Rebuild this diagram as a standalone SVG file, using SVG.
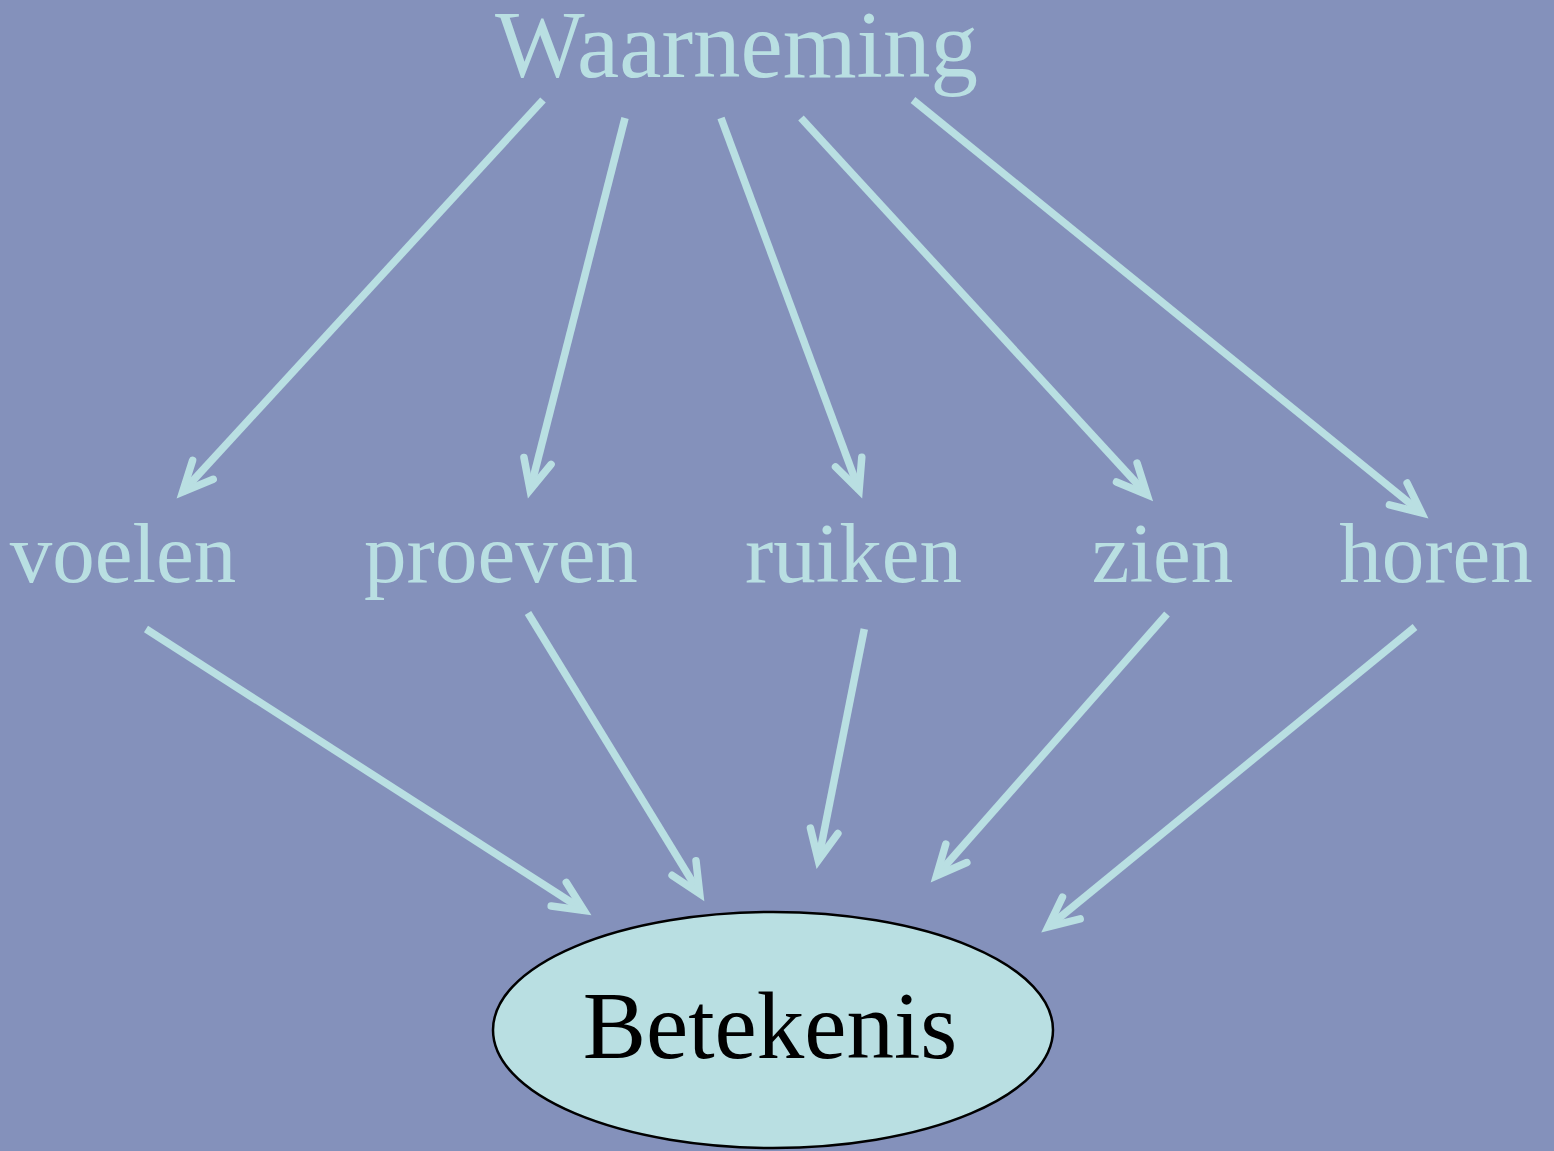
<svg xmlns="http://www.w3.org/2000/svg" width="1554" height="1151" viewBox="0 0 1554 1151">
<style>
.lbl{font-family:"Liberation Serif","Times New Roman",serif;fill:#B9DFE2;text-anchor:middle}
.con{fill:none;stroke:#B9DFE2;stroke-width:7.5;stroke-linecap:butt}
</style>
<defs>
<marker id="ah" markerUnits="userSpaceOnUse" markerWidth="80" markerHeight="80" viewBox="-40 -40 80 80" refX="0" refY="0" orient="auto" overflow="visible">
<path d="M -30 -14 L 0 0 L -30 14" fill="none" stroke="#B9DFE2" stroke-width="7.5" stroke-linecap="round" stroke-linejoin="miter" stroke-miterlimit="10"/>
</marker>
</defs>
<rect width="1554" height="1151" fill="#8491BB"/>
<g id="connectors">
<path class="con" d="M543 100 L182.6 491.9" marker-end="url(#ah)"/>
<path class="con" d="M625 118 L530.1 490.0" marker-end="url(#ah)"/>
<path class="con" d="M721 118 L859.1 490.2" marker-end="url(#ah)"/>
<path class="con" d="M801 118 L1147.1 494.6" marker-end="url(#ah)"/>
<path class="con" d="M913 100 L1421.6 512.8" marker-end="url(#ah)"/>
<path class="con" d="M146 629 L584.0 910.5" marker-end="url(#ah)"/>
<path class="con" d="M528 613 L699.7 893.6" marker-end="url(#ah)"/>
<path class="con" d="M864.3 629 L818.3 860.2" marker-end="url(#ah)"/>
<path class="con" d="M1167 614 L936.5 875.8" marker-end="url(#ah)"/>
<path class="con" d="M1415 627 L1048.1 927.0" marker-end="url(#ah)"/>
</g>
<g id="waarneming"><text class="lbl" x="736.5" y="77" font-size="95">Waarneming</text></g>
<g id="voelen"><text class="lbl" x="123" y="582" font-size="85">voelen</text></g>
<g id="proeven"><text class="lbl" x="501" y="582" font-size="85">proeven</text></g>
<g id="ruiken"><text class="lbl" x="853.5" y="582" font-size="85">ruiken</text></g>
<g id="zien"><text class="lbl" x="1162.5" y="582" font-size="85">zien</text></g>
<g id="horen"><text class="lbl" x="1436" y="582" font-size="85">horen</text></g>
<g id="betekenis">
<ellipse cx="773" cy="1030" rx="280" ry="118" fill="#B9DFE2" stroke="#000" stroke-width="2.5"/>
<text x="770" y="1058" font-size="95" font-family="Liberation Serif, Times New Roman, serif" text-anchor="middle" fill="#000">Betekenis</text>
</g>
</svg>
